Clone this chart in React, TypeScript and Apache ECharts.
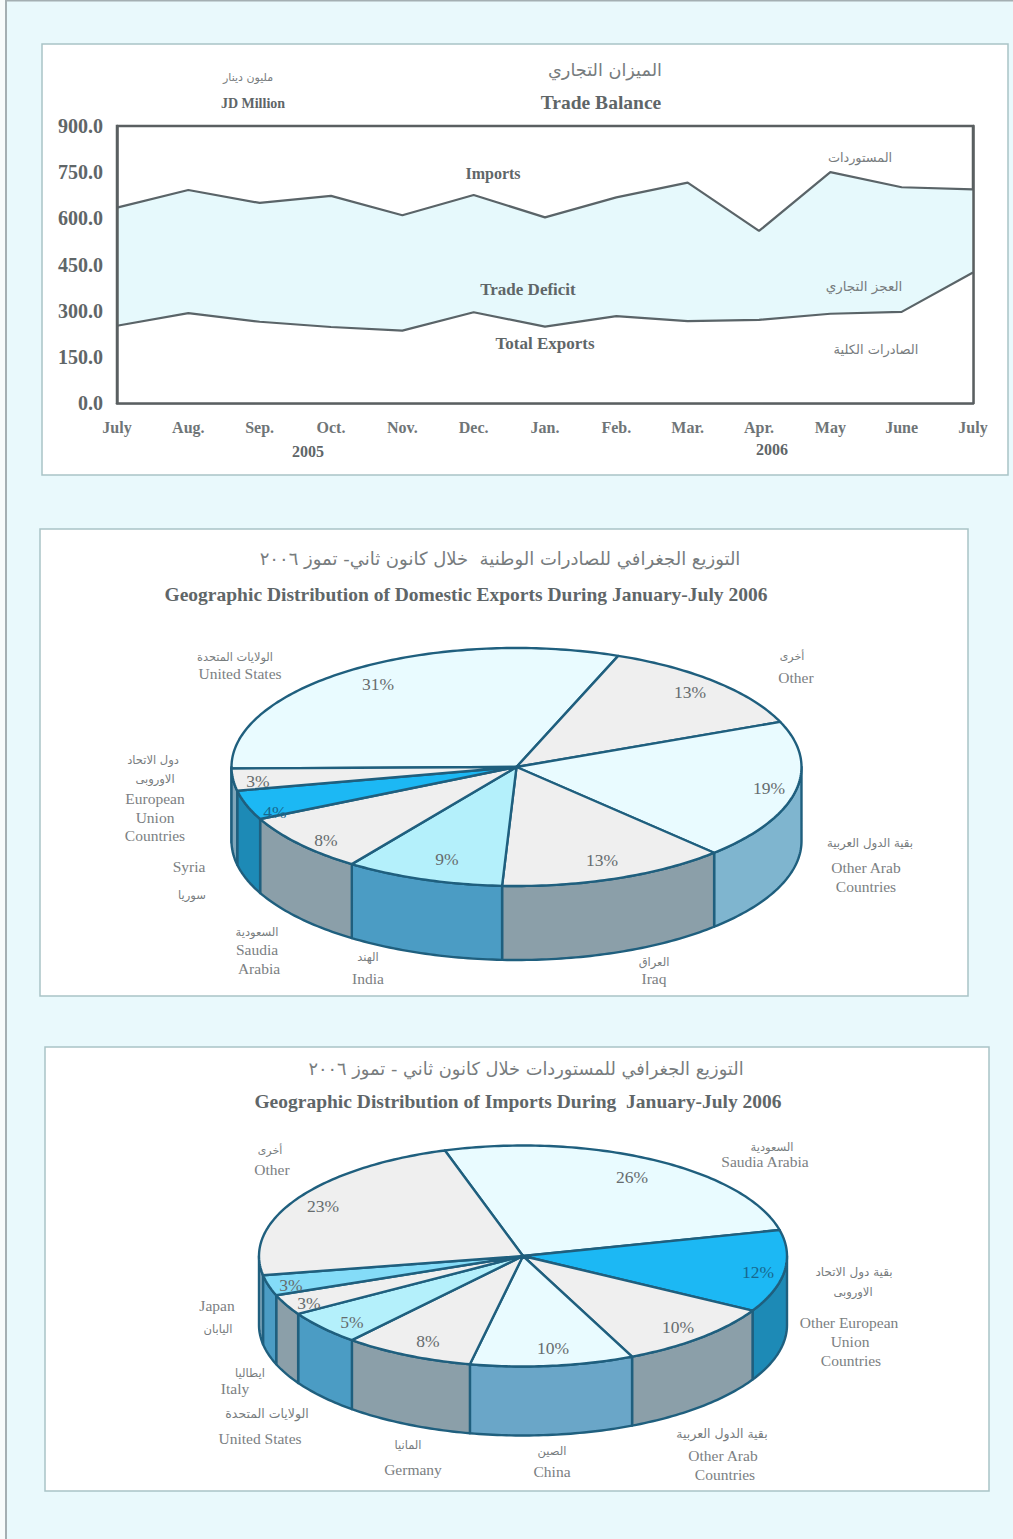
import React, { useEffect, useRef } from "react";
import * as echarts from "echarts";

const months = ["July", "Aug.", "Sep.", "Oct.", "Nov.", "Dec.", "Jan.", "Feb.", "Mar.", "Apr.", "May", "June", "July"];
const imports = [635, 692, 650, 673, 610, 676, 603, 668, 716, 559, 750, 701, 694];
const totalExports = [251, 292, 264, 247, 235, 295, 248, 282, 266, 270, 290, 296, 424];

const exportShares = [31, 13, 19, 13, 9, 8, 4, 3];
const importShares = [26, 12, 10, 10, 8, 5, 3, 3, 23];

const GRAY = "#efefef";
const PALE = "#e9fbff";
const BLUE = "#1cb8f4";
const SIDE_GRAY = "#8b9fa9";
const exportTop = [PALE, GRAY, PALE, GRAY, "#b4f0fb", GRAY, BLUE, GRAY];
const exportSide = [SIDE_GRAY, SIDE_GRAY, "#7fb5cf", "#8b9fa9", "#4b9cc4", SIDE_GRAY, "#1d8ab6", "#7fa6ba"];
const importTop = [PALE, BLUE, GRAY, PALE, GRAY, "#b4f0fb", GRAY, "#84dcf8", GRAY];
const importSide = [SIDE_GRAY, "#1d8ab6", SIDE_GRAY, "#6aa6c8", SIDE_GRAY, "#4b9cc4", SIDE_GRAY, "#4b9cc4", "#7fa6ba"];

const exportPct: number[][] = [[378, 684], [690, 692], [769, 788], [602, 860], [447, 859], [326, 840], [275, 812], [258, 781]];
const importPct: number[][] = [[632, 1177], [758, 1272], [678, 1327], [553, 1348], [428, 1341], [352, 1322], [309, 1303], [291, 1285], [323, 1206]];

const SERIF = '"Liberation Serif","DejaVu Sans",serif';
const ARABIC = '"DejaVu Sans",sans-serif';
const EDGE = "#1f5f7e";

// text, x, y, size
const boldLabels: [string, number, number, number][] = [
  ["Trade Balance", 601, 102, 19.5],
  ["JD Million", 253, 103, 14],
  ["Imports", 493, 173, 16],
  ["Trade Deficit", 528, 289, 17],
  ["Total Exports", 545, 343, 17],
  ["2005", 308, 451, 16],
  ["2006", 772, 449, 16],
  ["Geographic Distribution of Domestic Exports During January-July 2006", 466, 594, 19.5],
  ["Geographic Distribution of Imports During  January-July 2006", 518, 1101, 19.5],
];

const arabicLabels: [string, number, number, number][] = [
  ["الميزان التجاري", 605, 70, 17.7],
  ["مليون دينار", 248, 77, 11],
  ["المستوردات", 860, 157, 12.8],
  ["العجز التجاري", 864, 286, 13.5],
  ["الصادرات الكلية", 876, 349, 13],
  ["التوزيع الجغرافي للصادرات الوطنية  خلال كانون ثاني- تموز ٢٠٠٦", 500, 558, 18],
  ["الولايات المتحدة", 235, 657, 11.4],
  ["أخرى", 792, 656, 11],
  ["بقية الدول العربية", 870, 843, 11.8],
  ["العراق", 654, 962, 11.5],
  ["الهند", 368, 957, 11.5],
  ["السعودية", 257, 932, 11.5],
  ["سوريا", 192, 895, 11.5],
  ["دول الاتحاد", 153, 760, 11.5],
  ["الاوروبى", 155, 779, 11.5],
  ["التوزيع الجغرافي للمستوردات خلال كانون ثاني - تموز ٢٠٠٦", 526, 1068, 17.8],
  ["أخرى", 270, 1150, 11],
  ["السعودية", 772, 1147, 11.5],
  ["بقية دول الاتحاد", 854, 1272, 12],
  ["الاوروبى", 853, 1292, 11.5],
  ["بقية الدول العربية", 722, 1433, 12.5],
  ["الصين", 552, 1451, 11.5],
  ["المانيا", 408, 1445, 11.5],
  ["الولايات المتحدة", 267, 1413, 12.5],
  ["ايطاليا", 250, 1373, 11.5],
  ["اليابان", 218, 1329, 11.5],
];

const categoryLabels: [string, number, number][] = [
  ["United States", 240, 673], ["Other", 796, 677], ["Other Arab", 866, 867], ["Countries", 866, 886],
  ["Iraq", 654, 978], ["India", 368, 978], ["Saudia", 257, 949], ["Arabia", 259, 968], ["Syria", 189, 866],
  ["European", 155, 798], ["Union", 155, 817], ["Countries", 155, 835],
  ["Other", 272, 1169], ["Saudia Arabia", 765, 1161], ["Other European", 849, 1322], ["Union", 850, 1341],
  ["Countries", 851, 1360], ["Other Arab", 723, 1455], ["Countries", 725, 1474], ["China", 552, 1471],
  ["Germany", 413, 1469], ["United States", 260, 1438], ["Italy", 235, 1388], ["Japan", 217, 1305],
];

type Geom = { cx: number; cy: number; rx: number; ry: number; depth: number; start: number };

function pieSeries(shares: number[], tops: string[], sides: string[], g: Geom) {
  const total = shares.reduce((a, b) => a + b, 0);
  const pt = (deg: number, dy = 0) => {
    const r = (deg * Math.PI) / 180;
    return [g.cx + g.rx * Math.cos(r), g.cy + g.ry * Math.sin(r) + dy];
  };
  const arc = (from: number, to: number, dy = 0) => {
    const n = Math.max(2, Math.ceil(Math.abs(to - from)));
    const out: number[][] = [];
    for (let i = 0; i <= n; i++) out.push(pt(from + ((to - from) * i) / n, dy));
    return out;
  };
  return {
    type: "custom",
    coordinateSystem: "none",
    silent: true,
    data: shares.map((v, i) => [i, v]),
    renderItem: (params: any) => {
      const i = params.dataIndex;
      const before = shares.slice(0, i).reduce((a, b) => a + b, 0);
      const s = g.start + (before / total) * 360;
      const e = s + (shares[i] / total) * 360;
      const children: any[] = [];
      for (const k of [-720, -360, 0, 360]) {
        const a = Math.max(s + k, 0);
        const b = Math.min(e + k, 180);
        if (b > a) {
          children.push({
            type: "polygon",
            shape: { points: [...arc(a, b), ...arc(b, a, g.depth)] },
            style: { fill: sides[i], stroke: EDGE, lineWidth: 2.4, lineJoin: "round" },
          });
        }
      }
      children.push({
        type: "polygon",
        z2: 5,
        shape: { points: [[g.cx, g.cy], ...arc(s, e)] },
        style: { fill: tops[i], stroke: EDGE, lineWidth: 2.4, lineJoin: "round" },
      });
      return { type: "group", children };
    },
  };
}

const panel = (x: number, y: number, width: number, height: number) => ({
  type: "rect",
  z: -1,
  shape: { x, y, width, height },
  style: { fill: "#ffffff", stroke: "#a9c4c6", lineWidth: 1.5 },
});

const text = (t: string, x: number, y: number, size: number, family: string, fill: string, weight = "normal") => ({
  type: "text",
  z: 100,
  silent: true,
  style: { text: t, x, y, fontSize: size, fontFamily: family, fontWeight: weight, fill, align: "center", verticalAlign: "middle" },
});

const pctFill = (top: string) => (top === BLUE ? "#17688f" : "#666c6e");

const AXIS_LINE = { show: true, lineStyle: { color: "#5a5f61", width: 2.5 } };

export default function App() {
  const ref = useRef<HTMLDivElement>(null);
  useEffect(() => {
    const chart = echarts.init(ref.current!, undefined, { renderer: "svg" });
    chart.setOption({
      animation: false,
      backgroundColor: "#e9f9fc",
      graphic: [
        { type: "rect", z: -1, shape: { x: 0, y: 0, width: 5, height: 1539 }, style: { fill: "#f7fbfb" } },
        { type: "rect", z: -1, shape: { x: 5, y: 0, width: 2, height: 1539 }, style: { fill: "#a4afb2" } },
        { type: "rect", z: -1, shape: { x: 5, y: 0, width: 1008, height: 1.5 }, style: { fill: "#a4afb2" } },
        panel(42, 44, 966, 431),
        panel(40, 529, 928, 467),
        panel(45, 1047, 944, 444),
        ...boldLabels.map(([t, x, y, s]) => text(t, x, y, s, SERIF, "#5f6668", "bold")),
        ...arabicLabels.map(([t, x, y, s]) => text(t, x, y, s, ARABIC, "#777c7e")),
        ...categoryLabels.map(([t, x, y]) => text(t, x, y, 15.5, SERIF, "#7b8082")),
        ...exportShares.map((v, i) => text(`${v}%`, exportPct[i][0], exportPct[i][1], 17.5, SERIF, pctFill(exportTop[i]))),
        ...importShares.map((v, i) => text(`${v}%`, importPct[i][0], importPct[i][1], 17.5, SERIF, pctFill(importTop[i]))),
      ],
      grid: { left: 117, top: 126, width: 856, height: 277, show: true, borderColor: "#5a5f61", borderWidth: 2.5, backgroundColor: "#fff", z: 0 },
      xAxis: {
        type: "category",
        z: 10,
        data: months.map((m, i) => `${m}${i}`),
        boundaryGap: false,
        axisTick: { show: false },
        axisLine: AXIS_LINE,
        axisLabel: {
          interval: 0,
          margin: 16,
          fontFamily: SERIF,
          fontWeight: "bold",
          fontSize: 16,
          color: "#6f7577",
          formatter: (_: string, i: number) => months[i],
        },
      },
      yAxis: [
        {
          type: "value",
          z: 10,
          min: 0,
          max: 900,
          interval: 150,
          splitLine: { show: false },
          axisTick: { show: false },
          axisLine: AXIS_LINE,
          axisLabel: {
            margin: 14,
            fontFamily: SERIF,
            fontWeight: "bold",
            fontSize: 20,
            color: "#5f6668",
            formatter: (v: number) => v.toFixed(1),
          },
        },
        {
          type: "value",
          position: "right",
          z: 10,
          min: 0,
          max: 900,
          interval: 150,
          splitLine: { show: false },
          axisTick: { show: false },
          axisLine: AXIS_LINE,
          axisLabel: { show: false },
        },
      ],
      series: [
        {
          name: "Imports",
          type: "line",
          data: imports,
          symbol: "none",
          z: 3,
          clip: false,
          lineStyle: { color: "#5a6468", width: 2.2 },
          areaStyle: { color: "#e6f9fc", opacity: 1 },
        },
        {
          name: "Total Exports",
          type: "line",
          data: totalExports,
          symbol: "none",
          z: 4,
          clip: false,
          lineStyle: { color: "#5a6468", width: 2.2 },
          areaStyle: { color: "#ffffff", opacity: 1 },
        },
        pieSeries(exportShares, exportTop, exportSide, { cx: 516.5, cy: 767, rx: 285, ry: 119, depth: 74, start: 179.3 }),
        pieSeries(importShares, importTop, importSide, { cx: 523, cy: 1256, rx: 264, ry: 110.5, depth: 69, start: -107.2 }),
      ],
    });
    return () => chart.dispose();
  }, []);
  return <div ref={ref} style={{ position: "absolute", left: 0, top: 0, width: 1013, height: 1539 }} />;
}
